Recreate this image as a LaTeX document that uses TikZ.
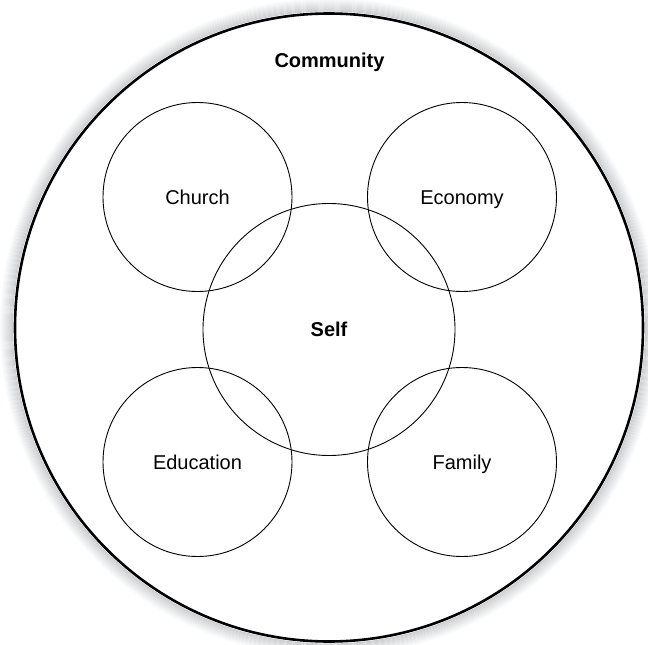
\documentclass[tikz,border=0pt]{standalone}
\usepackage{fontspec}
\setmainfont{Liberation Sans}
\usepackage{tikz}
\usetikzlibrary{calc,backgrounds}
\definecolor{RimGray}{HTML}{C8CACD}

\begin{document}
\begin{tikzpicture}[x=1pt,y=-1pt]
        \useasboundingbox (0,0) rectangle (648,645);
        \tikzset{sphere/.style={circle,draw=black,line width=0.9pt,inner sep=0pt,text height=14.3pt,text depth=0pt,font=\fontsize{20}{24}\selectfont}}
        \node[circle,draw=black,line width=2.6pt,minimum size=628pt,inner sep=0pt] (comm) at (329,327.5) {};
        % soft rim round the community circle
        \foreach \i in {1,...,13}
            \draw[RimGray!\the\numexpr 100-\i*7\relax, line width=1.1pt] (comm.center) circle (315.5+\i);
        \node[text height=14.3pt,text depth=0pt,font=\bfseries\fontsize{20}{24}\selectfont] (commlabel) at (329.5,60) {Community};
        \node[sphere,minimum size=189pt] (church) at (197.5,197) {Church};
        \node[sphere,minimum size=189pt] (econ) at (462,197) {Economy};
        \node[sphere,minimum size=189pt] (edu) at (197.5,462) {Education};
        \node[sphere,minimum size=189pt] (fam) at (462,462) {Family};
        \node[sphere,minimum size=252pt,font=\bfseries\fontsize{20}{24}\selectfont] (self) at (329,329.5) {Self};
        \end{tikzpicture}
\end{document}
